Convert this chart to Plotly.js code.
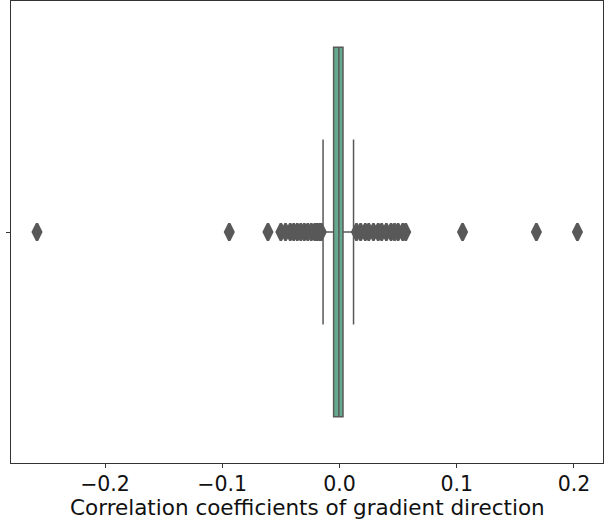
<!DOCTYPE html>
<html>
<head>
<meta charset="utf-8">
<script src="https://cdn.plot.ly/plotly-3.0.1.min.js"></script>
<style>html,body{margin:0;padding:0;background:#fff;}#chart{width:606px;height:519px;}</style>
</head>
<body>
<div id="chart"></div>
<script>
// Box statistics (correlation coefficients)
const boxQ1 = [-0.005];
const boxMedian = [-0.0005];
const boxQ3 = [0.003];
const boxLowerFence = [-0.014];
const boxUpperFence = [0.012];

// Outliers beyond whiskers
const outliersLow = [-0.258, -0.094, -0.061, -0.050, -0.046, -0.042, -0.039, -0.036, -0.033,
  -0.030, -0.027, -0.024, -0.021, -0.019, -0.017, -0.0155];
const outliersHigh = [0.0145, 0.018, 0.022, 0.025, 0.029, 0.033, 0.036, 0.040, 0.044,
  0.047, 0.050, 0.054, 0.0565, 0.105, 0.168, 0.203];

const xTicks = [-0.2, -0.1, 0.0, 0.1, 0.2];
const xTickLabels = ['\u22120.2', '\u22120.1', '0.0', '0.1', '0.2'];
const xTitle = 'Correlation coefficients of gradient direction';

const grey = '#595959';
const font = 'DejaVu Sans, sans-serif';

const outliers = outliersLow.concat(outliersHigh);

const traces = [
  {
    type: 'box',
    orientation: 'h',
    y: [0],
    q1: boxQ1,
    median: boxMedian,
    q3: boxQ3,
    lowerfence: boxLowerFence,
    upperfence: boxUpperFence,
    width: 0.8,
    whiskerwidth: 0.5,
    fillcolor: '#66a98f',
    line: {color: grey, width: 1.5},
    boxpoints: false,
    showlegend: false,
    hoverinfo: 'skip'
  },
  {
    type: 'scatter',
    mode: 'markers',
    x: outliers,
    y: outliers.map(() => 0),
    marker: {symbol: 'diamond-tall', size: 12, color: grey, line: {color: grey, width: 2.5}},
    showlegend: false,
    hoverinfo: 'skip'
  }
];

const layout = {
  width: 606,
  height: 519,
  margin: {l: 11, r: 3, t: 1, b: 56},
  paper_bgcolor: '#fff',
  plot_bgcolor: '#fff',
  showlegend: false,
  xaxis: {
    range: [-0.2802, 0.2248],
    tickvals: xTicks,
    ticktext: xTickLabels,
    ticks: 'outside',
    ticklen: 4,
    tickwidth: 1,
    tickcolor: '#333',
    ticklabelstandoff: -2,
    showgrid: false,
    zeroline: false,
    showline: true,
    mirror: true,
    linecolor: '#333',
    linewidth: 1,
    tickfont: {family: font, size: 20.5, color: '#111'}
  },
  yaxis: {
    range: [-0.5, 0.5],
    tickvals: [0],
    ticktext: [''],
    ticks: 'outside',
    ticklen: 4,
    tickcolor: '#333',
    showgrid: false,
    zeroline: false,
    showline: true,
    mirror: true,
    linecolor: '#333',
    linewidth: 1
  },
  annotations: [{
    text: xTitle,
    xref: 'paper', yref: 'paper',
    x: 0.5, y: -0.096,
    xanchor: 'center', yanchor: 'middle',
    borderpad: 0,
    showarrow: false,
    font: {family: font, size: 21.5, color: '#111'}
  }]
};

Plotly.newPlot('chart', traces, layout, {staticPlot: true, displayModeBar: false});
</script>
</body>
</html>
